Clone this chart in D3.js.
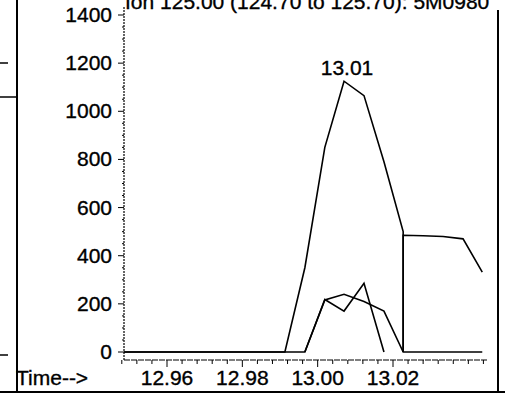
<!DOCTYPE html>
<html>
<head>
<meta charset="utf-8">
<script src="https://cdn.jsdelivr.net/npm/d3@7"></script>
<style>
  body { margin: 0; background: #fff; }
  svg text { font-family: "Liberation Sans", Arial, sans-serif; fill: #000; stroke: #000; stroke-width: 0.35px; }
</style>
</head>
<body>
<div id="chart"></div>
<script>
// extracted ion chromatogram, ion 125
const titleText = "Ion 125.00 (124.70 to 125.70): 5M0980";
const peakLabel = "13.01";
const peakTime = 13.007;
const peakValue = 1125;

const yTicks = [0, 200, 400, 600, 800, 1000, 1200, 1400];
const xTicks = [12.96, 12.98, 13.00, 13.02];

// each trace: scan times (min) and abundance
const traceMainTimes  = [12.9486, 12.9913, 12.9966, 13.0019, 13.0070, 13.0123, 13.0176, 13.0227, 13.0227];
const traceMainValues = [0, 0, 350, 850, 1125, 1065, 790, 500, 0];

const traceATimes  = [12.9486, 12.9966, 13.0019, 13.0070, 13.0123, 13.0176, 13.0227, 13.0437];
const traceAValues = [0, 0, 216, 240, 210, 170, 0, 0];

const traceBTimes  = [12.9966, 13.0019, 13.0070, 13.0123, 13.0176];
const traceBValues = [0, 218, 170, 285, 0];

const traceCTimes  = [13.0227, 13.0227, 13.0280, 13.0333, 13.0386, 13.0437];
const traceCValues = [0, 485, 483, 480, 470, 332];

const width = 505, height = 393;
const fs = 21;

const svg = d3.select("#chart").append("svg")
    .attr("width", width)
    .attr("height", height);

const x = d3.scaleLinear().domain([12.96, 13.02]).range([167, 393]);
const y = d3.scaleLinear().domain([0, 1400]).range([352, 15]);

// page frame bits from the scan
const frame = svg.append("g").attr("stroke", "#000").attr("fill", "none");
frame.append("line").attr("x1", 17).attr("x2", 17).attr("y1", 0).attr("y2", 393).attr("stroke-width", 2);
frame.append("line").attr("x1", 0).attr("x2", 8).attr("y1", 63).attr("y2", 63).attr("stroke-width", 1.5);
frame.append("line").attr("x1", 0).attr("x2", 17).attr("y1", 97).attr("y2", 97).attr("stroke-width", 1.5);
frame.append("line").attr("x1", 0).attr("x2", 8).attr("y1", 355).attr("y2", 355).attr("stroke-width", 1.5);
frame.append("line").attr("x1", 0).attr("x2", 505).attr("y1", 392).attr("y2", 392).attr("stroke-width", 2);
frame.append("line").attr("x1", 498).attr("x2", 498).attr("y1", 10).attr("y2", 393).attr("stroke-width", 2);

// title, cut off at the top like the scan
svg.append("text")
    .attr("x", 125)
    .attr("y", 9)
    .attr("font-size", fs)
    .text(titleText);

// y axis
const x0 = 124;
svg.append("line")
    .attr("x1", x0).attr("x2", x0)
    .attr("y1", y(1400) - 8).attr("y2", 360)
    .attr("stroke", "#000").attr("stroke-width", 1.2)
    .attr("stroke-dasharray", "2,1");

svg.append("g").selectAll("line")
    .data(d3.range(0, 1401, 50))
    .join("line")
    .attr("x1", d => d % 200 === 0 ? x0 - 6 : x0 - 2)
    .attr("x2", x0)
    .attr("y1", d => y(d)).attr("y2", d => y(d))
    .attr("stroke", "#000").attr("stroke-width", 1);

svg.append("g").selectAll("text")
    .data(yTicks)
    .join("text")
    .attr("x", 112)
    .attr("y", d => y(d) + 7)
    .attr("text-anchor", "end")
    .attr("font-size", fs)
    .text(d => d);

// x axis
const axisY = 360;
const xMax = x.invert(488);
svg.append("line")
    .attr("x1", 124).attr("x2", 488)
    .attr("y1", axisY).attr("y2", axisY)
    .attr("stroke", "#000").attr("stroke-width", 1.2)
    .attr("stroke-dasharray", "6,1");

const minor = d3.range(12.948, xMax, 0.004);
svg.append("g").selectAll("line")
    .data(minor)
    .join("line")
    .attr("x1", d => x(d)).attr("x2", d => x(d))
    .attr("y1", axisY)
    .attr("y2", d => xTicks.some(t => Math.abs(t - d) < 1e-6) ? axisY + 7 : axisY + 4)
    .attr("stroke", "#000").attr("stroke-width", 1);

svg.append("g").selectAll("text")
    .data(xTicks)
    .join("text")
    .attr("x", d => x(d))
    .attr("y", 385)
    .attr("text-anchor", "middle")
    .attr("font-size", fs)
    .text(d => d.toFixed(2));

svg.append("text")
    .attr("x", 16)
    .attr("y", 385)
    .attr("font-size", fs)
    .text("Time-->");

// traces
const line = d3.line()
    .x(d => x(d[0]))
    .y(d => y(d[1]));

const traces = [
    [traceMainTimes, traceMainValues],
    [traceATimes, traceAValues],
    [traceBTimes, traceBValues],
    [traceCTimes, traceCValues]
];

svg.append("g").selectAll("path")
    .data(traces)
    .join("path")
    .attr("d", ([t, v]) => line(d3.zip(t, v)))
    .attr("fill", "none")
    .attr("stroke", "#000")
    .attr("stroke-width", 1.6)
    .attr("stroke-linejoin", "miter");

svg.append("text")
    .attr("x", x(peakTime) + 3)
    .attr("y", y(peakValue) - 6)
    .attr("text-anchor", "middle")
    .attr("font-size", fs)
    .text(peakLabel);
</script>
</body>
</html>
